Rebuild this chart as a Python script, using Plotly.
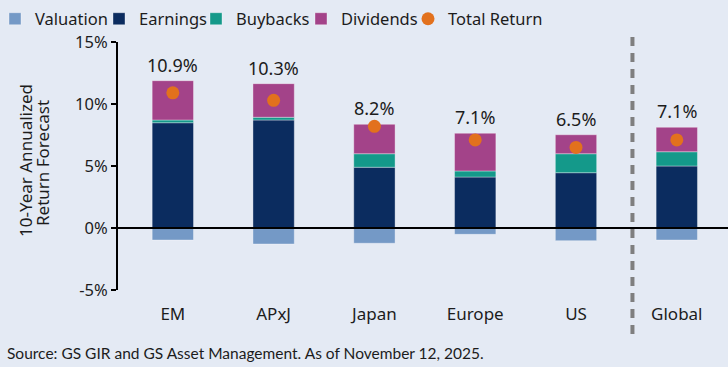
import plotly.graph_objects as go

categories = ["EM", "APxJ", "Japan", "Europe", "US", "Global"]
valuation = [-0.97, -1.29, -1.23, -0.51, -1.02, -0.97]
earnings = [8.49, 8.71, 4.90, 4.11, 4.46, 5.00]
buybacks = [0.22, 0.22, 1.09, 0.49, 1.53, 1.15]
dividends = [3.17, 2.71, 2.37, 3.04, 1.53, 1.97]
total_return = [10.9, 10.3, 8.2, 7.1, 6.5, 7.1]
total_labels = ["10.9%", "10.3%", "8.2%", "7.1%", "6.5%", "7.1%"]
y_ticks = [-5, 0, 5, 10, 15]
y_tick_text = ["-5%", "0%", "5%", "10%", "15%"]
source_text = "Source: GS GIR and GS Asset Management. As of November 12, 2025."

BG = "#e4eaf4"
FONT = "Noto Sans"
TXT = "#1c1c1c"
x = list(range(len(categories)))
bar_w = 0.41
outline = dict(color="rgba(255,255,255,0.35)", width=1)

# legend entries: left pixel position of each symbol
legend_sym_px = [8, 112, 209, 314, 421]
legend_ids = ["legend", "legend2", "legend3", "legend4", "legend5"]

fig = go.Figure()
for (name, vals, col), lid in zip([
    ("Valuation", valuation, "#7499c6"),
    ("Earnings", earnings, "#0b2c5f"),
    ("Buybacks", buybacks, "#14998a"),
    ("Dividends", dividends, "#a34389"),
], legend_ids[:4]):
    fig.add_trace(go.Bar(x=x, y=vals, name=name, width=bar_w, legend=lid,
                         marker=dict(color=col, line=outline)))

fig.add_trace(go.Scatter(x=x, y=total_return, name="Total Return", mode="markers",
                         legend=legend_ids[4],
                         marker=dict(color="#e2711d", size=13)))

tops = [e + b + d for e, b, d in zip(earnings, buybacks, dividends)]
for xi, top, lab in zip(x, tops, total_labels):
    fig.add_annotation(x=xi, y=top, text=lab, showarrow=False, yanchor="bottom",
                       yshift=2, font=dict(family=FONT, size=18, color=TXT))

# axis title (two lines)
fig.add_annotation(xref="paper", yref="paper", x=(25 - 118) / 610, y=(290 - 161) / 248,
                   text="10-Year Annualized", textangle=-90, showarrow=False,
                   xanchor="center", yanchor="middle",
                   font=dict(family=FONT, size=17, color=TXT))
fig.add_annotation(xref="paper", yref="paper", x=(42 - 118) / 610, y=(290 - 163) / 248,
                   text="Return Forecast", textangle=-90, showarrow=False,
                   xanchor="center", yanchor="middle",
                   font=dict(family=FONT, size=17, color=TXT))

fig.add_annotation(xref="paper", yref="paper", x=(5 - 118) / 610, y=(290 - 353) / 248,
                   text=source_text, showarrow=False, xanchor="left", yanchor="middle",
                   font=dict(family="Lato", size=15.5, color=TXT))

# zero line above bars
fig.add_shape(type="line", xref="paper", yref="y", x0=0, x1=1, y0=0, y1=0,
              line=dict(color="black", width=2), layer="above")
# dashed separator
fig.add_shape(type="line", xref="x", yref="paper", x0=4.56, x1=4.56,
              y0=(290 - 334) / 248, y1=(290 - 35) / 248,
              line=dict(color="#7f7f7f", width=4, dash="9px,7px"), layer="below")

legend_style = dict(orientation="h", xref="paper", yref="paper",
                    xanchor="left", yanchor="middle", y=1 + (42 - 19) / 248,
                    font=dict(family=FONT, size=16.5, color=TXT),
                    bgcolor="rgba(0,0,0,0)", itemwidth=30)
legends = {lid: dict(legend_style, x=(px - 13 - 118) / 610)
           for lid, px in zip(legend_ids, legend_sym_px)}

fig.update_layout(
    width=728, height=367,
    margin=dict(l=118, r=0, t=42, b=77, autoexpand=False),
    paper_bgcolor=BG, plot_bgcolor=BG,
    barmode="relative",
    font=dict(family=FONT, color=TXT),
    showlegend=True,
    xaxis=dict(range=[-0.544, 5.508], tickvals=x, ticktext=categories,
               showgrid=False, zeroline=False, showline=False, ticks="",
               ticklabelstandoff=12,
               tickfont=dict(family=FONT, size=17, color=TXT)),
    yaxis=dict(range=[-5, 15], tickvals=y_ticks, ticktext=y_tick_text,
               showgrid=False, zeroline=False, showline=True, linecolor="black",
               linewidth=2, ticks="outside", ticklen=5, tickwidth=2, tickcolor="black",
               tickfont=dict(family=FONT, size=16.5, color=TXT)),
    **legends,
)

fig.write_html("out.html", config={"displayModeBar": False},
               post_script="document.body.style.margin='0';")
